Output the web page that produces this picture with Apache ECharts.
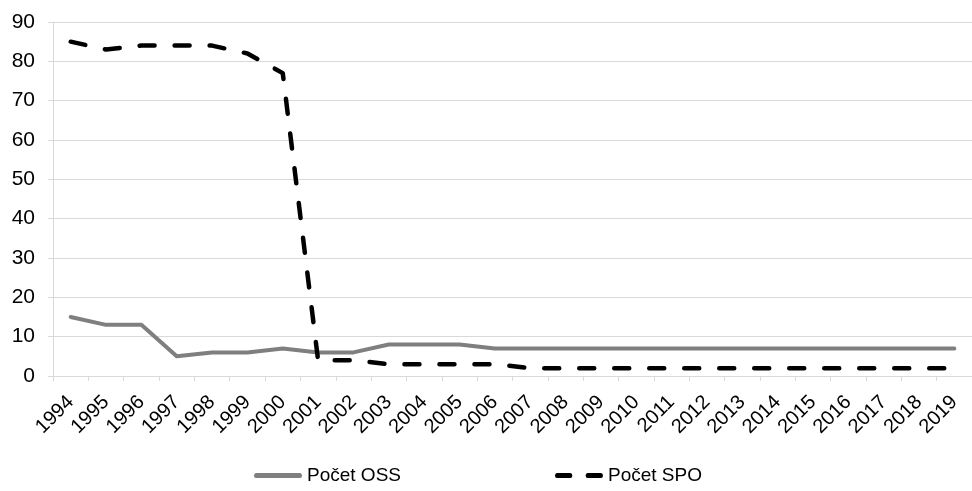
<!DOCTYPE html>
<html>
<head>
<meta charset="utf-8">
<script src="https://cdn.jsdelivr.net/npm/echarts@6/dist/echarts.min.js"></script>
<style>
  html, body { margin: 0; padding: 0; background: #fff; }
  #chart { width: 972px; height: 491px; }
</style>
</head>
<body>
<div id="chart"></div>
<script>
// Years on the category axis
const years = ['1994','1995','1996','1997','1998','1999','2000','2001','2002','2003','2004','2005','2006',
               '2007','2008','2009','2010','2011','2012','2013','2014','2015','2016','2017','2018','2019'];

// Počet OSS
const pocetOSS = [15, 13, 13, 5, 6, 6, 7, 6, 6, 8, 8, 8, 7, 7, 7, 7, 7, 7, 7, 7, 7, 7, 7, 7, 7, 7];

// Počet SPO
const pocetSPO = [85, 83, 84, 84, 84, 82, 77, 4, 4, 3, 3, 3, 3, 2, 2, 2, 2, 2, 2, 2, 2, 2, 2, 2, 2, 2];

// Value axis ticks
const yMin = 0, yMax = 90, yStep = 10;

const FONT = '"Liberation Sans", Arial, sans-serif';
const GRID_COLOR = '#d9d9d9';

// Legend keys: a solid bar and a pair of dashes, drawn as filled paths
const SOLID_KEY = 'path://M2,0h44a2,2 0 0 1 0,4h-44a2,2 0 0 1 0,-4z';
const DASH_KEY = 'path://M2,0h13a2,2 0 0 1 0,4h-13a2,2 0 0 1 0,-4z M32,0h13a2,2 0 0 1 0,4h-13a2,2 0 0 1 0,-4z';

const chart = echarts.init(document.getElementById('chart'), null, { renderer: 'canvas' });

chart.setOption({
  animation: false,
  backgroundColor: '#ffffff',
  grid: { left: 53, top: 22, right: -9, bottom: 115, containLabel: false },
  legend: {
    left: 249,
    bottom: 1,
    itemWidth: 48,
    itemHeight: 5,
    itemGap: 154,
    symbolKeepAspect: false,
    textStyle: { fontFamily: FONT, fontSize: 19, color: '#000' },
    data: [
      { name: 'Počet OSS', icon: SOLID_KEY, itemStyle: { color: '#7f7f7f', borderWidth: 0 } },
      { name: 'Počet SPO', icon: DASH_KEY, itemStyle: { color: '#000000', borderWidth: 0 } }
    ]
  },
  xAxis: {
    type: 'category',
    data: years,
    boundaryGap: true,
    axisLine: { show: true, lineStyle: { color: GRID_COLOR, width: 1 } },
    axisTick: { show: true, length: 5, alignWithLabel: false, lineStyle: { color: GRID_COLOR } },
    axisLabel: {
      interval: 0,
      rotate: 45,
      margin: 23,
      fontFamily: FONT,
      fontSize: 20,
      color: '#000'
    },
    splitLine: { show: false }
  },
  yAxis: {
    type: 'value',
    min: yMin,
    max: yMax,
    interval: yStep,
    axisLine: { show: true, lineStyle: { color: GRID_COLOR, width: 1 } },
    axisTick: { show: true, length: 5, lineStyle: { color: GRID_COLOR } },
    axisLabel: { margin: 18, fontFamily: FONT, fontSize: 21, color: '#000' },
    splitLine: { show: true, lineStyle: { color: GRID_COLOR, width: 1 } }
  },
  series: [
    {
      name: 'Počet OSS',
      type: 'line',
      data: pocetOSS,
      symbol: 'none',
      smooth: false,
      color: '#7f7f7f',
      lineStyle: { color: '#7f7f7f', width: 4, cap: 'round', join: 'round' }
    },
    {
      name: 'Počet SPO',
      type: 'line',
      data: pocetSPO,
      symbol: 'none',
      smooth: false,
      color: '#000000',
      lineStyle: { color: '#000000', width: 4.5, type: [15, 20], cap: 'round', join: 'round' }
    }
  ]
});
</script>
</body>
</html>
